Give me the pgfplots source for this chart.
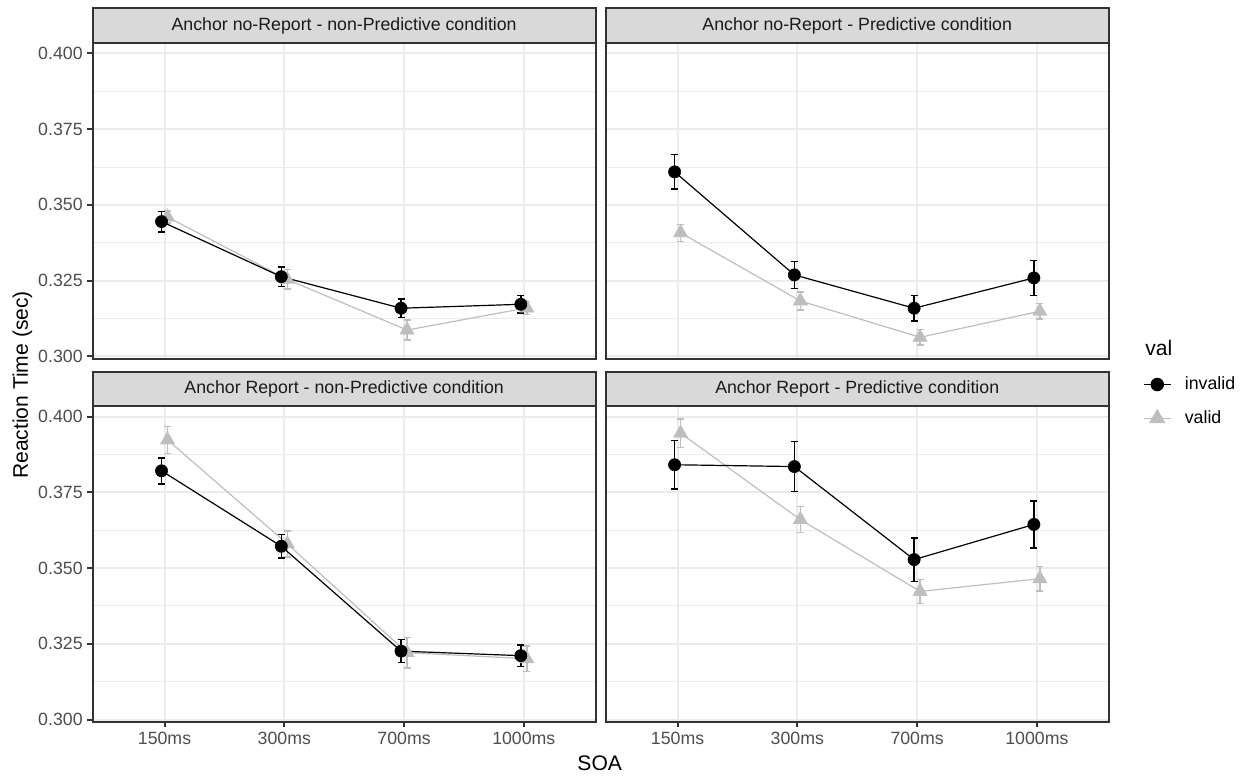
\documentclass[border=0pt]{standalone}
\usepackage{fontspec}
\setmainfont{Liberation Sans}
\usepackage{pgfplots}
\pgfplotsset{compat=1.18}
\definecolor{g10}{HTML}{1A1A1A}
\definecolor{g20}{HTML}{333333}
\definecolor{g30}{HTML}{4D4D4D}
\definecolor{g85}{HTML}{D9D9D9}
\definecolor{g92}{HTML}{EBEBEB}
\definecolor{validc}{HTML}{BEBEBE}
\newcommand{\smallf}{\fontsize{13.3}{15.5}\selectfont}
\newcommand{\bigf}{\fontsize{15.8}{18}\selectfont}
\pgfplotsset{
 panel/.style={
  scale only axis, width=377.25pt, height=236.6pt,
  xmin=-0.6, xmax=3.6, ymin=0.2993, ymax=0.4034,
  xtick={0,1,2,3}, xticklabels={150ms,300ms,700ms,1000ms},
  ytick={0.3,0.325,0.35,0.375,0.4},
  yticklabels={0.300,0.325,0.350,0.375,0.400},
  minor ytick={0.3125,0.3375,0.3625,0.3875},
  xmajorgrids, ymajorgrids, yminorgrids,
  major grid style={draw=g92, line width=1.5pt},
  minor grid style={draw=g92, line width=0.75pt},
  axis line style={draw=g20, line width=1.5pt},
  tick style={draw=g20, line width=1.5pt},
  major tick length=4pt, minor tick length=0pt,
  tick align=outside, tick pos=left,
  ticklabel style={font=\smallf, text=g30},
  /pgf/number format/assume math mode=true,
  clip=false,
 },
 notx/.style={xticklabels={}, xtick style={draw=none}},
 noty/.style={yticklabels={}, ytick style={draw=none}},
 pinvalid/.style={black, line width=0.9pt, mark=*, mark size=4.6pt,
   mark options={solid, fill=black, draw=black, line width=0.4pt},
   error bars/.cd, y dir=both, y explicit,
   error bar style={line width=1.1pt, black},
   error mark options={line width=1.1pt, black, mark size=2.6pt, rotate=90},
   /pgfplots/.cd},
 pvalid/.style={validc, line width=0.9pt, mark=triangle*, mark size=6.3pt,
   mark options={solid, fill=validc, draw=validc, line width=0.2pt},
   error bars/.cd, y dir=both, y explicit,
   error bar style={line width=1.1pt, validc},
   error mark options={line width=1.1pt, validc, mark size=2.6pt, rotate=90},
   /pgfplots/.cd},
}
\newcommand{\strip}[1]{%
 \draw[draw=g20, line width=1.5pt, fill=g85] (rel axis cs:0,1) rectangle ([yshift=26pt]rel axis cs:1,1);
 \node[font=\smallf, text=g10] at ([yshift=13pt]rel axis cs:0.5,1) {#1};}
\begin{document}
\begin{tikzpicture}
\useasboundingbox (0,0) rectangle (935.25pt,582pt);
% Top-left
\begin{axis}[panel, notx, at={(69.5pt,313.1pt)}, anchor=south west]
\addplot[forget plot, pvalid] table[x=x,y=y,y error=e]{
x y e
0.025 0.3460 0.0020
1.025 0.3254 0.0032
2.025 0.3087 0.0033
3.025 0.3160 0.0022
};
\addplot[forget plot, pinvalid] table[x=x,y=y,y error=e]{
x y e
-0.025 0.3445 0.0034
0.975 0.3263 0.0032
1.975 0.3159 0.0031
2.975 0.3172 0.0029
};
\strip{Anchor no-Report - non-Predictive condition}
\end{axis}
% Top-right
\begin{axis}[panel, notx, noty, at={(454.3pt,313.1pt)}, anchor=south west,
  legend image code/.code={\draw[mark repeat=2,mark phase=2,#1] plot coordinates {(0pt,0pt) (10.25pt,0pt) (20.5pt,0pt)};},
  legend style={at={(axis description cs:1.0676,-0.058)}, anchor=north west, draw=none, fill=none,
    inner sep=0pt, row sep=13.5pt, column sep=10pt, nodes={inner sep=0pt, font=\smallf, text=black}},
  legend cell align=left]
\addplot[forget plot, pvalid] table[x=x,y=y,y error=e]{
x y e
0.025 0.3408 0.0028
1.025 0.3183 0.0030
2.025 0.3063 0.0025
3.025 0.3149 0.0025
};
\addplot[forget plot, pinvalid] table[x=x,y=y,y error=e]{
x y e
-0.025 0.3609 0.0057
0.975 0.3269 0.0045
1.975 0.3159 0.0042
2.975 0.3259 0.0058
};
\addlegendimage{black, line width=0.9pt, mark=*, mark size=4.6pt, mark options={solid, fill=black}}
\addlegendentry{invalid}
\addlegendimage{validc, line width=0.9pt, mark=triangle*, mark size=6.3pt, mark options={solid, fill=validc}}
\addlegendentry{valid}
\strip{Anchor no-Report - Predictive condition}
\end{axis}
% Bottom-left
\begin{axis}[panel, at={(69.5pt,40.7pt)}, anchor=south west]
\addplot[forget plot, pvalid] table[x=x,y=y,y error=e]{
x y e
0.025 0.3923 0.0044
1.025 0.3580 0.0043
2.025 0.3221 0.0050
3.025 0.3201 0.0042
};
\addplot[forget plot, pinvalid] table[x=x,y=y,y error=e]{
x y e
-0.025 0.3821 0.0043
0.975 0.3572 0.0039
1.975 0.3226 0.0038
2.975 0.3211 0.0035
};
\strip{Anchor Report - non-Predictive condition}
\end{axis}
% Bottom-right
\begin{axis}[panel, noty, at={(454.3pt,40.7pt)}, anchor=south west]
\addplot[forget plot, pvalid] table[x=x,y=y,y error=e]{
x y e
0.025 0.3945 0.0047
1.025 0.3660 0.0043
2.025 0.3423 0.0040
3.025 0.3465 0.0041
};
\addplot[forget plot, pinvalid] table[x=x,y=y,y error=e]{
x y e
-0.025 0.3841 0.0080
0.975 0.3835 0.0082
1.975 0.3528 0.0072
2.975 0.3644 0.0077
};
\strip{Anchor Report - Predictive condition}
\end{axis}
\node[font=\bigf, rotate=90] at (16.8pt,293.25pt) {Reaction Time (sec)};
\node[font=\bigf] at (449.8pt,9.75pt) {SOA};
\node[font=\bigf, anchor=west] at (855.5pt,320.8pt) {val};
\end{tikzpicture}
\end{document}
